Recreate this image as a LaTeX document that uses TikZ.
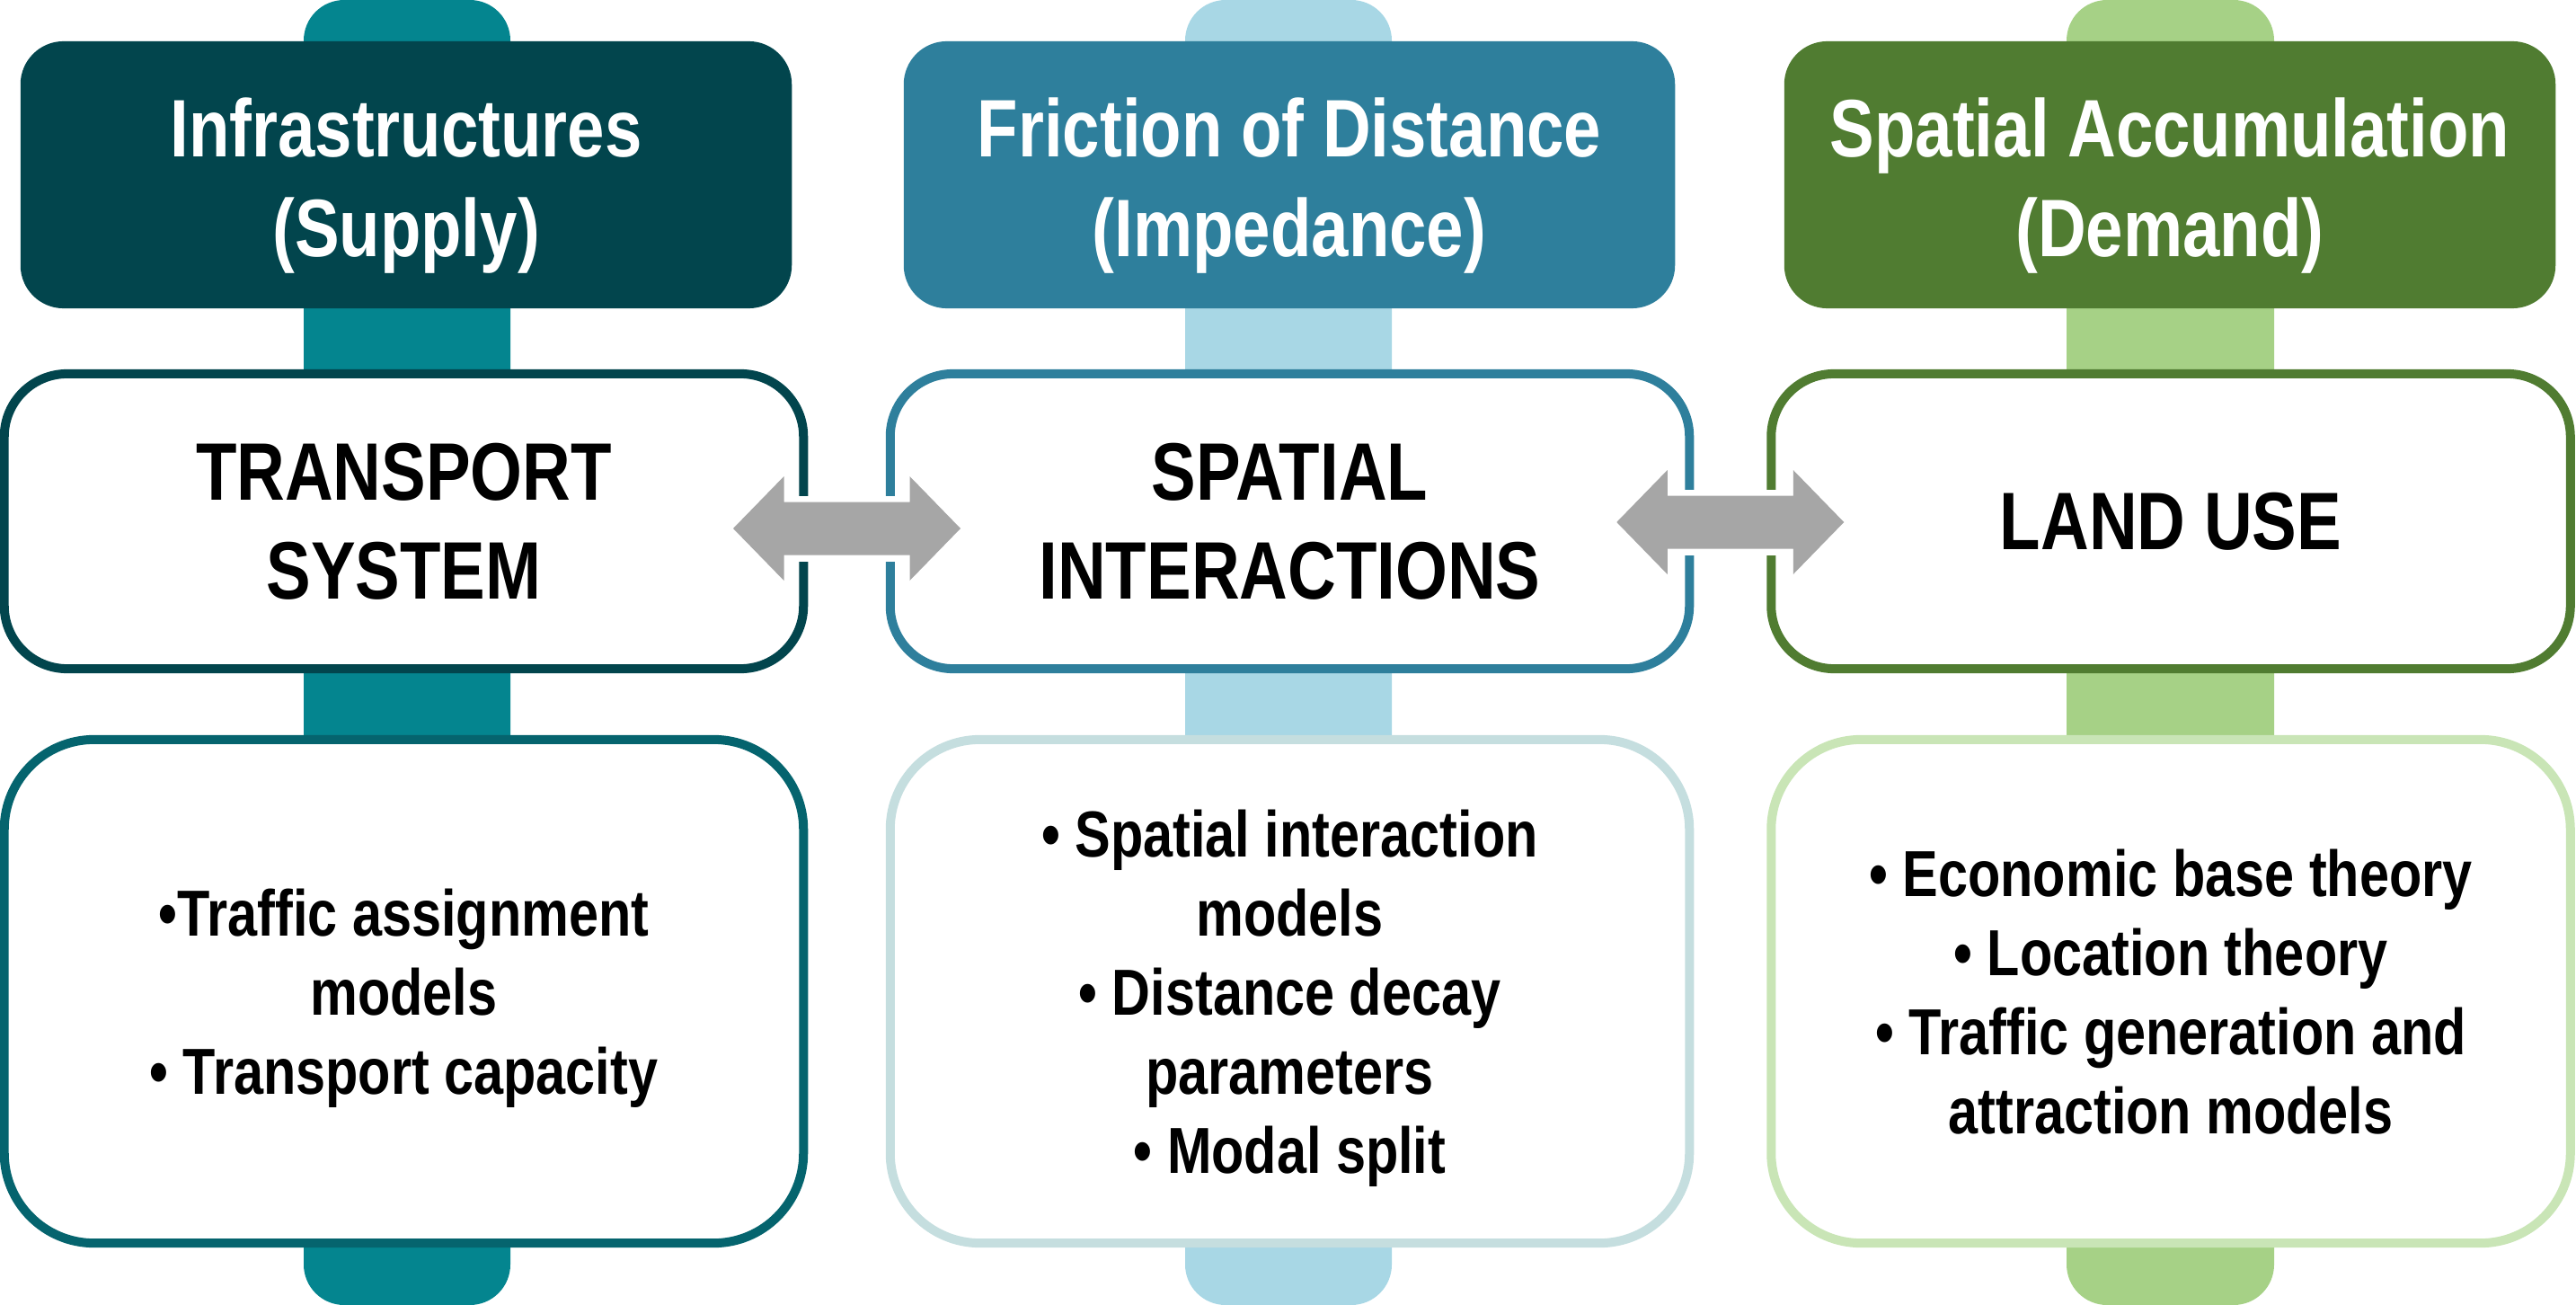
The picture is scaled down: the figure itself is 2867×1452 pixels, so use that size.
\documentclass[tikz,border=0pt]{standalone}
\usepackage{fontspec}
\setmainfont{Liberation Sans}[FakeStretch=0.82]
\usepackage{tikz}
\usetikzlibrary{calc}

\definecolor{supplydark}{HTML}{02454D}
\definecolor{supplybar}{HTML}{04858F}
\definecolor{supplyline}{HTML}{05646E}
\definecolor{impdark}{HTML}{2E7F9C}
\definecolor{impbar}{HTML}{A8D7E5}
\definecolor{impline}{HTML}{C5DEDF}
\definecolor{demdark}{HTML}{507C31}
\definecolor{dembar}{HTML}{A6D186}
\definecolor{demline}{HTML}{C9E5B6}
\definecolor{arrowgray}{HTML}{A6A6A6}

\tikzset{
  hdr/.style={fill=#1, rounded corners=4.8mm, minimum width=8.58cm, minimum height=2.97cm, inner sep=0pt},
  hdrtext/.style={text=white, align=center, inner sep=0pt, font=\fontsize{25.8}{31.5}\selectfont\bfseries},
  midbox/.style={draw=#1, fill=white, line width=1mm, rounded corners=7mm, minimum width=8.89cm, minimum height=3.28cm, inner sep=0pt, align=center, font=\fontsize{25.8}{31.3}\selectfont\bfseries},
  lowbox/.style={draw=#1, fill=white, line width=1mm, rounded corners=1cm, minimum width=8.89cm, minimum height=5.6cm, inner sep=0pt, text depth=0pt, align=center, font=\fontsize{20.6}{25}\selectfont\bfseries},
  biarrow/.pic={
    \fill[white] (-70,-36.5) rectangle (70,36.5);
    \fill[arrowgray] (-126.5,0) -- (-70,-58) -- (-70,-29.5) -- (70,-29.5) -- (70,-58)
      -- (126.5,0) -- (70,58) -- (70,29.5) -- (-70,29.5) -- (-70,58) -- cycle;
  }
}

\begin{document}
\begin{tikzpicture}[x=0.01cm,y=-0.01cm]
  \useasboundingbox (0,0) rectangle (2867,1452);

  % bars behind the columns
  \fill[supplybar, rounded corners=4.5mm] (338,0) rectangle (568,1452);
  \fill[impbar, rounded corners=4.5mm] (1319,0) rectangle (1549,1452);
  \fill[dembar, rounded corners=4.5mm] (2300,0) rectangle (2531,1452);

  % headers
  \node[hdr=supplydark] (sup) at (452,194.5) {};
  \node[hdr=impdark] (imp) at (1435,194.5) {};
  \node[hdr=demdark] (dem) at (2415,194.5) {};
  \node[hdrtext] (suptext) at (452,206.5) {Infrastructures\\(Supply)};
  \node[hdrtext] (imptext) at (1435,206.5) {Friction of Distance\\(Impedance)};
  \node[hdrtext] (demtext) at (2415,206.5) {Spatial Accumulation\\(Demand)};

  % main boxes
  \node[midbox=supplydark] (ts) at (449.5,580) {TRANSPORT\\SYSTEM};
  \node[midbox=impdark] (si) at (1435.5,580) {SPATIAL\\INTERACTIONS};
  \node[midbox=demdark] (lu) at (2416,580) {LAND USE};

  % lists
  \node[lowbox=supplyline] (tslist) at (449.5,1103) {•Traffic assignment\\models\\• Transport capacity};
  \node[lowbox=impline] (silist) at (1435.5,1103) {• Spatial interaction\\models\\• Distance decay\\parameters\\• Modal split};
  \node[lowbox=demline] (lulist) at (2416,1103) {• Economic base theory\\• Location theory\\• Traffic generation and\\attraction models};

  % links
  \pic at ($(ts.east)!0.5!(si.west)+(0,8)$) {biarrow};
  \pic at ($(si.east)!0.5!(lu.west)+(0,1)$) {biarrow};
\end{tikzpicture}
\end{document}
